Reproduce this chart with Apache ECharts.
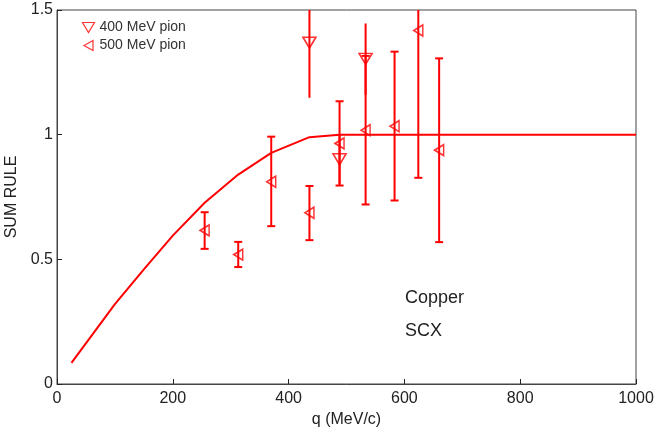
<!DOCTYPE html>
<html>
<head>
<meta charset="utf-8">
<script src="https://cdn.jsdelivr.net/npm/echarts@6/dist/echarts.min.js"></script>
<style>html,body{margin:0;padding:0;background:#fff;}#c{width:655px;height:427px;}</style>
</head>
<body>
<div id="c"></div>
<script>
// ---- data ----
const xTicks = [0, 200, 400, 600, 800, 1000];
const yTicks = [0, 0.5, 1, 1.5];

const curveQ = [25, 100, 150, 200, 255, 313, 370, 436, 488, 1000];
const curveV = [0.085, 0.32, 0.46, 0.595, 0.727, 0.84, 0.927, 0.99, 1.0, 1.0];

const q400 = [436, 488, 533];
const v400 = [1.369, 0.901, 1.304];
const lo400 = [1.148, 0.80, 1.16];
const hi400 = [1.59, 1.0, 1.446];

const q500 = [255, 313, 370, 436, 488, 533, 583, 624, 660];
const v500 = [0.616, 0.519, 0.811, 0.687, 0.965, 1.018, 1.034, 1.418, 0.938];
const lo500 = [0.542, 0.469, 0.633, 0.577, 0.796, 0.72, 0.736, 0.827, 0.569];
const hi500 = [0.689, 0.570, 0.992, 0.794, 1.134, 1.316, 1.333, 2.0, 1.306];

const name400 = '400 MeV pion';
const name500 = '500 MeV pion';
const notes = ['Copper', 'SCX'];

// ---- chart ----
const FONT = '"Liberation Sans", Arial, Helvetica, sans-serif';
const RED = '#ff0000';
const Y_MAX = 1.5;
const DOWN_TRI = 'path://M0,0L12,0L6,10Z';
const LEFT_TRI = 'path://M0,5L9,0L9,10Z';

function errRender(withCaps) {
  return function (params, api) {
    const x = api.value(0);
    let lo = api.value(1), hi = api.value(2);
    const hiClipped = hi > Y_MAX;
    if (hiClipped) hi = Y_MAX;
    const pLo = api.coord([x, lo]);
    const pHi = api.coord([x, hi]);
    const st = { stroke: RED, lineWidth: 2 };
    const children = [{ type: 'line', shape: { x1: pLo[0], y1: pLo[1], x2: pHi[0], y2: pHi[1] }, style: st }];
    if (withCaps) {
      const w = 4;
      children.push({ type: 'line', shape: { x1: pLo[0] - w, y1: pLo[1], x2: pLo[0] + w, y2: pLo[1] }, style: st });
      if (!hiClipped) children.push({ type: 'line', shape: { x1: pHi[0] - w, y1: pHi[1], x2: pHi[0] + w, y2: pHi[1] }, style: st });
    }
    return { type: 'group', children: children };
  };
}

const chart = echarts.init(document.getElementById('c'), null, { renderer: 'canvas' });
chart.setOption({
  animation: false,
  backgroundColor: '#fff',
  textStyle: { fontFamily: FONT },
  grid: { left: 57, right: 19, top: 10, bottom: 43, outerBoundsMode: 'none', containLabel: false,
    show: true, borderColor: '#444', borderWidth: 1, backgroundColor: 'transparent' },
  legend: {
    orient: 'vertical', left: 75, top: 15, itemWidth: 12, itemHeight: 10, itemGap: 3,
    textStyle: { fontFamily: FONT, fontSize: 14, color: '#333' },
    data: [
      { name: name400, icon: DOWN_TRI, itemStyle: { color: 'none', borderColor: RED, borderWidth: 1.2 } },
      { name: name500, icon: LEFT_TRI, itemStyle: { color: 'none', borderColor: RED, borderWidth: 1.2 } }
    ]
  },
  xAxis: {
    type: 'value', min: xTicks[0], max: xTicks[xTicks.length - 1], interval: 200,
    name: 'q (MeV/c)', nameLocation: 'middle', nameGap: 27,
    nameTextStyle: { fontFamily: FONT, fontSize: 16, color: '#222' },
    axisLine: { show: true, lineStyle: { color: '#444', width: 1 } },
    axisTick: { show: true, inside: true, length: 5, lineStyle: { color: '#222' } },
    axisLabel: { fontFamily: FONT, fontSize: 16, color: '#222', margin: 7,
      formatter: v => String(v) },
    splitLine: { show: false }
  },
  yAxis: {
    type: 'value', min: yTicks[0], max: yTicks[yTicks.length - 1], interval: 0.5,
    name: 'SUM RULE', nameLocation: 'middle', nameGap: 22,
    nameTextStyle: { fontFamily: FONT, fontSize: 16, color: '#222' },
    axisLine: { show: true, lineStyle: { color: '#444', width: 1 } },
    axisTick: { show: true, inside: true, length: 5, lineStyle: { color: '#222' } },
    axisLabel: { fontFamily: FONT, fontSize: 16, color: '#222', margin: 4,
      formatter: v => String(v) },
    splitLine: { show: false }
  },
  series: [
    {
      type: 'line', name: 'curve', data: curveQ.map((q, i) => [q, curveV[i]]),
      showSymbol: false, symbol: 'none', lineStyle: { color: RED, width: 2 }, z: 2
    },
    {
      type: 'custom', name: 'err400', renderItem: errRender(false), clip: true,
      data: q400.map((q, i) => [q, lo400[i], hi400[i]]), z: 3
    },
    {
      type: 'custom', name: 'err500', renderItem: errRender(true), clip: true,
      data: q500.map((q, i) => [q, lo500[i], hi500[i]]), z: 3
    },
    {
      type: 'scatter', name: name400, data: q400.map((q, i) => [q, v400[i]]),
      symbol: DOWN_TRI, symbolSize: [13, 11],
      itemStyle: { color: 'none', borderColor: RED, borderWidth: 1.6 }, z: 4
    },
    {
      type: 'scatter', name: name500, data: q500.map((q, i) => [q, v500[i]]),
      symbol: LEFT_TRI, symbolSize: [9, 11],
      itemStyle: { color: 'none', borderColor: RED, borderWidth: 1.6 }, z: 4
    }
  ],
  graphic: [
    { type: 'text', left: 405, top: 289, style: { text: notes[0], font: '18px ' + FONT, fill: '#222' } },
    { type: 'text', left: 405, top: 322, style: { text: notes[1], font: '18px ' + FONT, fill: '#222' } }
  ]
});
</script>
</body>
</html>
